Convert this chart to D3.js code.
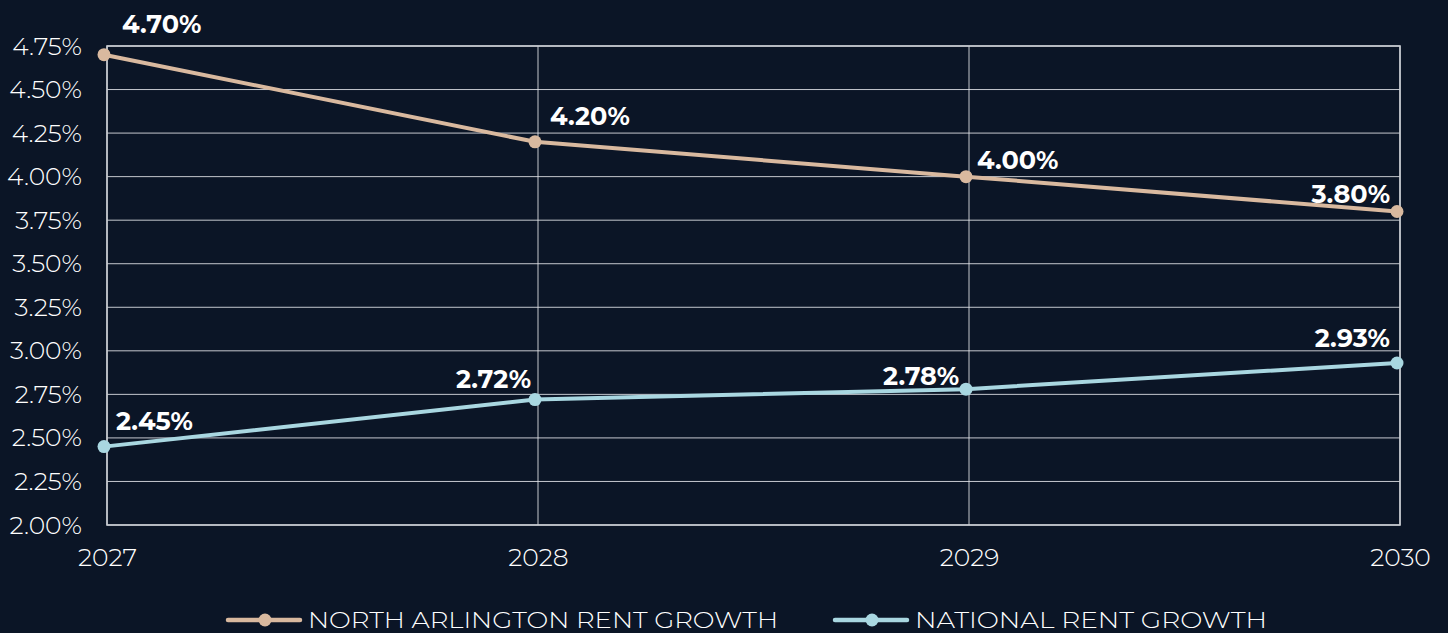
<!DOCTYPE html>
<html><head><meta charset="utf-8">
<script src="https://cdn.jsdelivr.net/npm/d3@7"></script>
<style>
html,body{margin:0;padding:0;background:#0b1526;}
svg{display:block;}
</style></head>
<body>
<svg id="chart" width="1448" height="633"></svg>
<script>
const years = ["2027","2028","2029","2030"];
const northArlington = [4.70, 4.20, 4.00, 3.80];
const national = [2.45, 2.72, 2.78, 2.93];
const yTicks = [2.00,2.25,2.50,2.75,3.00,3.25,3.50,3.75,4.00,4.25,4.50,4.75];
const seriesNames = ["NORTH ARLINGTON RENT GROWTH","NATIONAL RENT GROWTH"];

const colors = ["#d9b99f","#a9d7e1"];
// label placement (style only)
const labelAnchors = [["start","start","start","end"],["start","end","end","end"]];
const labelDx = [[18,15,11,-7],[12,-4,-7,-7]];
const labelDy = [[-30.5,-26,-16.5,-17.5],[-25.5,-21,-13.5,-24.5]];

const W=1448,H=633;
const m={l:107,r:48,t:46,b:108};
const svg=d3.select("#chart");
svg.append("rect").attr("width",W).attr("height",H).attr("fill","#0b1526");

const x=d3.scalePoint().domain(years).range([m.l,W-m.r]);
const y=d3.scaleLinear().domain([2.0,4.75]).range([H-m.b,m.t]);
const font="'Montserrat','Noto Sans',sans-serif";

// grid
const g=svg.append("g");
g.selectAll("line.h").data(yTicks).join("line")
  .attr("x1",m.l).attr("x2",W-m.r).attr("y1",d=>y(d)).attr("y2",d=>y(d))
  .attr("stroke","#e6e8ec").attr("stroke-opacity",0.85).attr("stroke-width",1);
g.selectAll("line.v").data(years).join("line")
  .attr("x1",d=>x(d)).attr("x2",d=>x(d)).attr("y1",m.t).attr("y2",H-m.b)
  .attr("stroke","#e6e8ec").attr("stroke-opacity",0.85).attr("stroke-width",1);
svg.append("rect").attr("x",m.l).attr("y",m.t).attr("width",W-m.r-m.l).attr("height",H-m.b-m.t)
  .attr("fill","none").attr("stroke","#c9ccd2").attr("stroke-width",1.6);

// axes
const yAxis=d3.axisLeft(y).tickValues(yTicks).tickFormat(d=>d.toFixed(2)+"%").tickSize(0).tickPadding(25);
const ya=svg.append("g").attr("transform",`translate(${m.l},0)`).call(yAxis);
ya.select(".domain").remove();
ya.selectAll("text").attr("fill","#ffffff").attr("font-family",font).attr("font-size",25).attr("font-weight",300);
const xAxis=d3.axisBottom(x).tickSize(0).tickPadding(23);
const xa=svg.append("g").attr("transform",`translate(0,${H-m.b})`).call(xAxis);
xa.select(".domain").remove();
xa.selectAll("text").attr("fill","#ffffff").attr("font-family",font).attr("font-size",25).attr("font-weight",300);

// series
const series=[northArlington,national];
const line=d3.line().x((d,i)=>x(years[i])).y(d=>y(d));
const sg=svg.append("g").attr("transform","translate(-3,0)");
series.forEach((s,si)=>{
  sg.append("path").datum(s).attr("d",line).attr("fill","none")
    .attr("stroke",colors[si]).attr("stroke-width",4);
  sg.selectAll(null).data(s).join("circle")
    .attr("cx",(d,i)=>x(years[i])).attr("cy",d=>y(d)).attr("r",6.5).attr("fill",colors[si]);
  sg.selectAll(null).data(s).join("text")
    .attr("x",(d,i)=>x(years[i])+labelDx[si][i])
    .attr("y",(d,i)=>y(d)+labelDy[si][i]).attr("dy","0.35em")
    .attr("text-anchor",(d,i)=>labelAnchors[si][i])
    .attr("fill","#ffffff").attr("font-family",font).attr("font-weight",700).attr("font-size",25.5)
    .text(d=>d.toFixed(2)+"%");
});

// legend
const legX=[228,835], legW=[470,352];
const ly=620;
seriesNames.forEach((n,i)=>{
  const lg=svg.append("g");
  lg.append("line").attr("x1",legX[i]).attr("x2",legX[i]+72).attr("y1",ly).attr("y2",ly)
    .attr("stroke",colors[i]).attr("stroke-width",4.5).attr("stroke-linecap","round");
  lg.append("circle").attr("cx",legX[i]+37).attr("cy",ly).attr("r",6.5).attr("fill",colors[i]);
  lg.append("text").attr("x",legX[i]+80).attr("y",ly).attr("dy","0.36em")
    .attr("fill","#ffffff").attr("font-family",font).attr("font-size",23).attr("font-weight",300)
    .attr("textLength",legW[i]).attr("lengthAdjust","spacingAndGlyphs")
    .text(n);
});
</script>
</body></html>
